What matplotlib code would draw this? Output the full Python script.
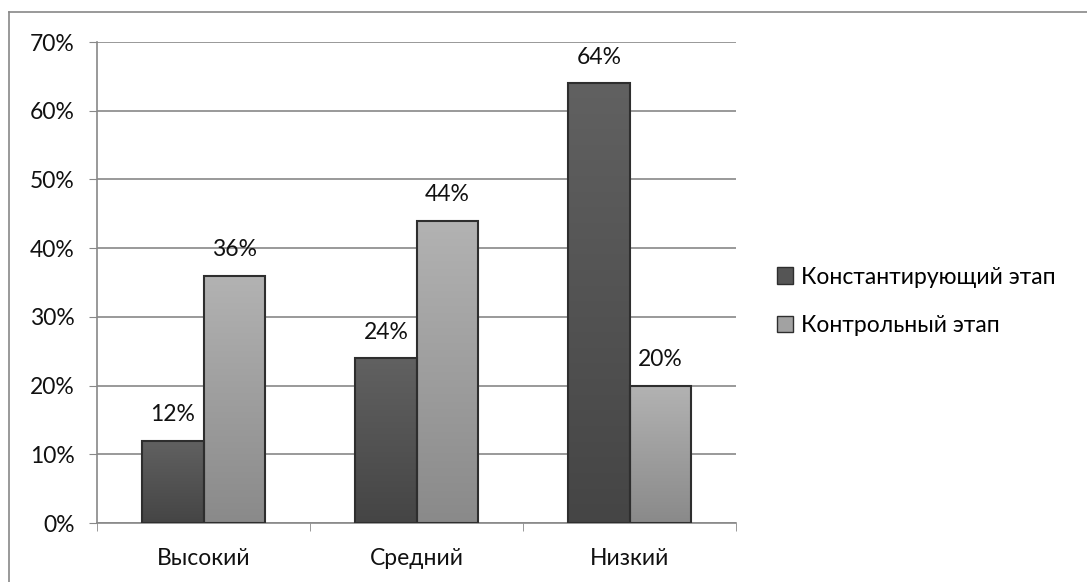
import numpy as np
import matplotlib.pyplot as plt
from matplotlib.patches import Patch
from matplotlib.lines import Line2D

plt.rcParams['font.family'] = ['Lato', 'DejaVu Sans']

categories = ["Высокий", "Средний", "Низкий"]
konst = [12, 24, 64]
kontr = [36, 44, 20]
series_names = ["Константирующий этап", "Контрольный этап"]

fs = 16.5
fig = plt.figure(figsize=(10.87, 5.82), dpi=100)
ax = fig.add_axes([97 / 1087, 1 - 523 / 582, 639 / 1087, 481 / 582])

# chart frame (only top and left edges visible)
fig.add_artist(Line2D([9 / 1087, 9 / 1087], [0, 1 - 12 / 582], transform=fig.transFigure,
                      color="#888888", linewidth=1.2))
fig.add_artist(Line2D([9 / 1087, 1], [1 - 12 / 582, 1 - 12 / 582], transform=fig.transFigure,
                      color="#888888", linewidth=1.2))

x = np.arange(len(categories))
w = 0.2877

def grad_bars(xs, vals, top_col, bot_col):
    bars = ax.bar(xs, vals, w, color="none", edgecolor="#2e2e2e", linewidth=1.5, zorder=3)
    g = np.linspace(0, 1, 256).reshape(-1, 1)
    top = np.array(top_col)
    bot = np.array(bot_col)
    img = bot + (top - bot) * g
    img = np.repeat(img[:, None, :], 2, axis=1)
    for b in bars:
        x0, y0 = b.get_x(), b.get_y()
        im = ax.imshow(img, extent=(x0, x0 + b.get_width(), y0, y0 + b.get_height()),
                       origin="lower", aspect="auto", zorder=2)
        im.set_clip_path(b)
    for b, v in zip(bars, vals):
        ax.text(b.get_x() + b.get_width() / 2, v + 2.8, f"{v}%", ha="center", va="baseline",
                fontsize=fs, color="#111111")
    return bars

grad_bars(x - w / 2, konst, (0.38, 0.38, 0.38), (0.27, 0.27, 0.27))
grad_bars(x + w / 2, kontr, (0.70, 0.70, 0.70), (0.54, 0.54, 0.54))

ax.set_xlim(-0.5, 2.5)
ax.set_ylim(0, 70)
ax.set_yticks(range(0, 71, 10))
ax.set_yticklabels([f"{v}%" for v in range(0, 71, 10)], fontsize=fs, color="#111111")
ax.set_xticks(x)
ax.set_xticklabels(categories, fontsize=fs, color="#111111")
ax.set_xticks([-0.5, 0.5, 1.5, 2.5], minor=True)
ax.tick_params(axis="x", which="major", length=0, pad=18)
ax.tick_params(axis="x", which="minor", length=6, color="#888888")
ax.tick_params(axis="y", length=6, color="#888888", pad=10)
ax.yaxis.grid(True, color="#888888", linewidth=1.2, zorder=0)
ax.set_axisbelow(True)
for s in ["top", "right"]:
    ax.spines[s].set_visible(False)
ax.spines["left"].set_color("#888888")
ax.spines["bottom"].set_color("#888888")
ax.spines["left"].set_linewidth(1.2)
ax.spines["bottom"].set_linewidth(1.2)

handles = [Patch(facecolor="#555555", edgecolor="#2e2e2e"),
           Patch(facecolor="#a2a2a2", edgecolor="#2e2e2e")]
fig.legend(handles, series_names, loc="center left", bbox_to_anchor=(777 / 1087, 1 - 301.5 / 582),
           frameon=False, fontsize=fs, handlelength=0.7, handleheight=0.7,
           handletextpad=0.35, labelspacing=1.22, borderpad=0, borderaxespad=0)

fig.savefig("out.png", dpi=100)
